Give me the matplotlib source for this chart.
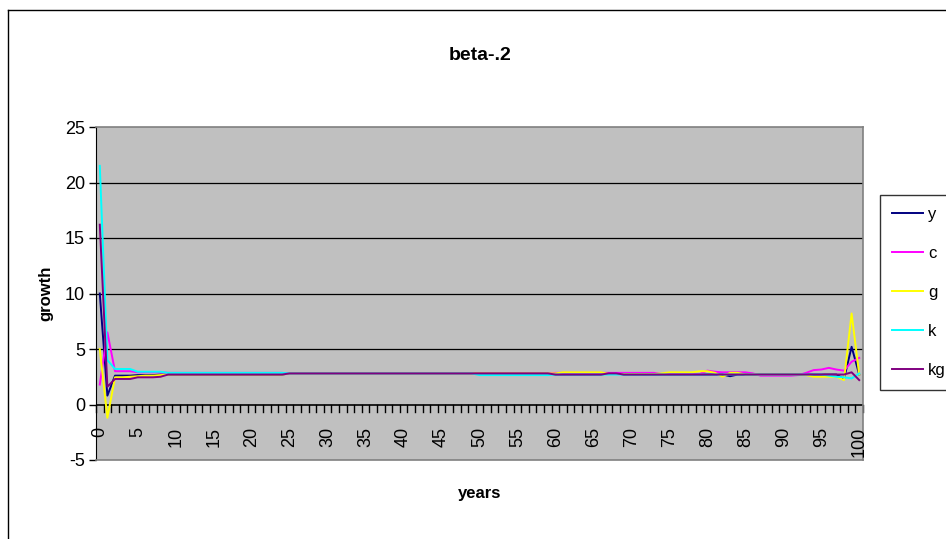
import numpy as np
import matplotlib.pyplot as plt
from matplotlib.lines import Line2D

plt.rcParams['font.family'] = ['Liberation Sans', 'DejaVu Sans']
plt.rcParams['axes.unicode_minus'] = False

years = list(range(101))

# growth rates, one row = 10 years
y = [10.0, 0.8, 2.6, 2.6, 2.6, 2.65, 2.65, 2.65, 2.7, 2.7,
     2.7, 2.7, 2.7, 2.7, 2.7, 2.7, 2.7, 2.7, 2.7, 2.7,
     2.7, 2.7, 2.7, 2.7, 2.7, 2.8, 2.8, 2.8, 2.8, 2.8,
     2.8, 2.8, 2.8, 2.8, 2.8, 2.8, 2.8, 2.8, 2.8, 2.8,
     2.8, 2.8, 2.8, 2.8, 2.8, 2.8, 2.8, 2.8, 2.8, 2.8,
     2.8, 2.8, 2.8, 2.8, 2.8, 2.8, 2.8, 2.8, 2.8, 2.8,
     2.7, 2.7, 2.7, 2.7, 2.7, 2.7, 2.7, 2.8, 2.8, 2.7,
     2.7, 2.7, 2.7, 2.7, 2.7, 2.7, 2.7, 2.7, 2.7, 2.7,
     2.7, 2.7, 2.7, 2.55, 2.7, 2.7, 2.7, 2.7, 2.7, 2.7,
     2.7, 2.7, 2.7, 2.7, 2.7, 2.7, 2.7, 2.7, 2.3, 5.2,
     2.7]

c = [1.8, 6.5, 3.0, 3.0, 3.0, 2.9, 2.9, 2.9, 2.9, 2.85,
     2.85, 2.85, 2.85, 2.85, 2.85, 2.85, 2.85, 2.85, 2.85, 2.85,
     2.85, 2.85, 2.85, 2.85, 2.85, 2.8, 2.8, 2.8, 2.8, 2.8,
     2.8, 2.8, 2.8, 2.8, 2.8, 2.8, 2.8, 2.8, 2.8, 2.8,
     2.8, 2.8, 2.8, 2.8, 2.8, 2.8, 2.8, 2.8, 2.8, 2.8,
     2.8, 2.8, 2.8, 2.8, 2.8, 2.8, 2.8, 2.8, 2.8, 2.8,
     2.85, 2.85, 2.85, 2.85, 2.85, 2.85, 2.85, 2.85, 2.85, 2.85,
     2.85, 2.85, 2.85, 2.85, 2.75, 2.75, 2.75, 2.75, 2.75, 2.75,
     3.05, 2.95, 2.9, 2.9, 2.9, 2.9, 2.8, 2.6, 2.6, 2.6,
     2.6, 2.6, 2.65, 2.85, 3.1, 3.15, 3.3, 3.15, 3.05, 3.85,
     4.2]

g = [5.0, -1.2, 2.45, 2.45, 2.5, 2.55, 2.6, 2.6, 2.65, 2.7,
     2.7, 2.7, 2.7, 2.7, 2.7, 2.7, 2.7, 2.7, 2.7, 2.7,
     2.7, 2.7, 2.7, 2.7, 2.7, 2.8, 2.8, 2.8, 2.8, 2.8,
     2.8, 2.8, 2.8, 2.8, 2.8, 2.8, 2.8, 2.8, 2.8, 2.8,
     2.8, 2.8, 2.8, 2.8, 2.8, 2.8, 2.8, 2.8, 2.8, 2.8,
     2.8, 2.8, 2.8, 2.8, 2.8, 2.8, 2.8, 2.8, 2.8, 2.8,
     2.8, 2.9, 2.9, 2.9, 2.9, 2.9, 2.9, 2.75, 2.75, 2.75,
     2.75, 2.75, 2.75, 2.75, 2.8, 2.9, 2.9, 2.9, 2.9, 3.0,
     3.0, 2.85, 2.5, 2.85, 2.85, 2.7, 2.7, 2.7, 2.7, 2.7,
     2.7, 2.7, 2.7, 2.65, 2.5, 2.5, 2.5, 2.5, 2.2, 8.2,
     2.7]

k = [21.5, 4.0, 3.2, 3.2, 3.2, 2.95, 2.95, 2.95, 2.95, 2.85,
     2.85, 2.85, 2.85, 2.85, 2.85, 2.85, 2.85, 2.85, 2.85, 2.85,
     2.85, 2.85, 2.85, 2.85, 2.85, 2.8, 2.8, 2.8, 2.8, 2.8,
     2.8, 2.8, 2.8, 2.8, 2.8, 2.8, 2.8, 2.8, 2.8, 2.8,
     2.8, 2.8, 2.8, 2.8, 2.8, 2.8, 2.8, 2.8, 2.8, 2.8,
     2.65, 2.65, 2.65, 2.65, 2.65, 2.65, 2.65, 2.65, 2.65, 2.65,
     2.7, 2.7, 2.7, 2.7, 2.7, 2.7, 2.7, 2.7, 2.7, 2.7,
     2.7, 2.7, 2.7, 2.7, 2.7, 2.7, 2.7, 2.7, 2.7, 2.7,
     2.7, 2.7, 2.7, 2.7, 2.7, 2.7, 2.7, 2.7, 2.7, 2.7,
     2.7, 2.7, 2.7, 2.7, 2.7, 2.7, 2.6, 2.5, 2.45, 2.35,
     2.8]

kg = [16.2, 1.6, 2.3, 2.3, 2.3, 2.45, 2.45, 2.45, 2.5, 2.7,
      2.7, 2.7, 2.7, 2.7, 2.7, 2.7, 2.7, 2.7, 2.7, 2.7,
      2.7, 2.7, 2.7, 2.7, 2.7, 2.8, 2.8, 2.8, 2.8, 2.8,
      2.8, 2.8, 2.8, 2.8, 2.8, 2.8, 2.8, 2.8, 2.8, 2.8,
      2.8, 2.8, 2.8, 2.8, 2.8, 2.8, 2.8, 2.8, 2.8, 2.8,
      2.8, 2.8, 2.8, 2.8, 2.8, 2.8, 2.8, 2.8, 2.8, 2.8,
      2.7, 2.7, 2.7, 2.7, 2.7, 2.7, 2.7, 2.8, 2.8, 2.7,
      2.7, 2.7, 2.7, 2.7, 2.7, 2.7, 2.7, 2.7, 2.7, 2.7,
      2.7, 2.7, 2.7, 2.7, 2.7, 2.7, 2.7, 2.7, 2.7, 2.7,
      2.7, 2.7, 2.7, 2.7, 2.7, 2.7, 2.7, 2.7, 2.7, 2.9,
      2.2]

series = [('y', y, '#000080'), ('c', c, '#FF00FF'), ('g', g, '#FFFF00'),
          ('k', k, '#00FFFF'), ('kg', kg, '#800080')]

fig = plt.figure(figsize=(9.46, 5.39), dpi=100)
W, H = 946, 539
ax = fig.add_axes([96 / W, 1 - 460 / H, (863 - 96) / W, (460 - 127) / H])
ax.set_facecolor('#C0C0C0')

for name, vals, col in series:
    ax.plot(years, vals, color=col, lw=1.4, label=name, clip_on=False)

ax.set_xlim(-0.5, 100.5)
ax.set_ylim(-5, 25)

# y axis
ax.set_yticks(np.arange(-5, 26, 5))
ax.tick_params(axis='y', direction='out', length=5, width=1, labelsize=13, pad=3)
for v in [5, 10, 15, 20]:
    ax.axhline(v, color='black', lw=0.9, zorder=0.5)
ax.axhline(0, color='black', lw=1.2, zorder=0.6)

for s in ['top', 'right', 'bottom']:
    ax.spines[s].set_color('#808080')
    ax.spines[s].set_linewidth(1.2)
ax.spines['left'].set_color('black')

# category axis crosses at 0: ticks between categories, labels every 5
ax.set_xticks([])
for i in range(102):
    ax.plot([i - 0.5, i - 0.5], [0, -0.65], color='black', lw=1, clip_on=False, zorder=0.7)
for i in range(0, 101, 5):
    ax.text(i, -2.0, str(i), rotation=90, ha='center', va='top', fontsize=13)

ax.set_ylabel('growth', fontsize=12, fontweight='bold', labelpad=8)
ax.set_xlabel('years', fontsize=12, fontweight='bold', labelpad=19)
fig.text(480 / W, 1 - 55 / H, 'beta-.2', ha='center', va='center',
         fontsize=14, fontweight='bold')

handles = [Line2D([], [], color=col, lw=1.4) for _, _, col in series]
leg = fig.legend(handles, [s[0] for s in series], loc='upper left',
                 bbox_to_anchor=(880 / W, 1 - 195 / H), fontsize=12,
                 frameon=True, fancybox=False, edgecolor='black',
                 handlelength=1.9, handletextpad=0.3, labelspacing=1.45,
                 borderpad=0.7, borderaxespad=0)
leg.get_frame().set_linewidth(1)

# chart area border
fig.add_artist(Line2D([8 / W, 8 / W], [0, 1 - 10 / H], color='black', lw=1,
                      transform=fig.transFigure))
fig.add_artist(Line2D([8 / W, 1], [1 - 10 / H, 1 - 10 / H], color='black', lw=1,
                      transform=fig.transFigure))

plt.savefig('out.png', dpi=100)
